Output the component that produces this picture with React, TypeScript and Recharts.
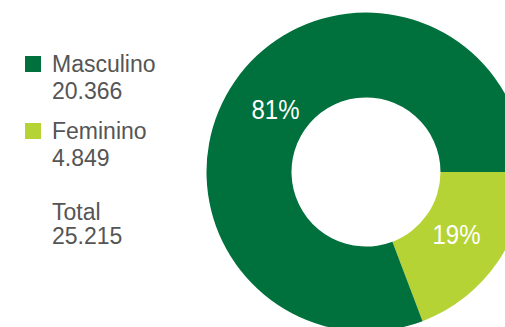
import React from "react";
import { PieChart, Pie, Cell } from "recharts";

const categories = ["Feminino", "Masculino"];
const values = [4849, 20366];
const valueLabels = ["4.849", "20.366"];
const percentLabels = ["19%", "81%"];
const colors = ["#B5D334", "#00703C"];
const totalLabel = "Total";
const totalValue = "25.215";

const data = categories.map((name, i) => ({ name, value: values[i], pct: percentLabels[i] }));
const legendOrder = [1, 0];

const RAD = Math.PI / 180;
const renderLabel = (props: any) => {
  const { cx, cy, midAngle, index } = props;
  const r = 110;
  const x = cx + r * Math.cos(-midAngle * RAD);
  const y = cy + r * Math.sin(-midAngle * RAD);
  return (
    <text
      x={x}
      y={y}
      fill="#ffffff"
      textAnchor="middle"
      dominantBaseline="central"
      textLength={48}
      lengthAdjust="spacingAndGlyphs"
      style={{ fontFamily: "'Liberation Sans', Arial, sans-serif", fontSize: 28 }}
    >
      {data[index].pct}
    </text>
  );
};

const textStyle: React.CSSProperties = {
  position: "absolute",
  fontFamily: "'Liberation Sans', Arial, sans-serif",
  fontSize: 23,
  color: "#555555",
  lineHeight: "26px",
  whiteSpace: "nowrap",
};

export default function App() {
  return (
    <div style={{ position: "absolute", left: 0, top: 0, width: 505, height: 327, overflow: "hidden", background: "#fff" }}>
      <div style={{ position: "absolute", left: 0, top: 0 }}>
        <PieChart width={505} height={327} margin={{ top: 0, right: 0, bottom: 0, left: 0 }}>
          <Pie
            data={data}
            dataKey="value"
            nameKey="name"
            cx={366}
            cy={172}
            innerRadius={74.5}
            outerRadius={159.5}
            startAngle={0}
            endAngle={-360}
            stroke="none"
            label={renderLabel}
            labelLine={false}
            isAnimationActive={false}
          >
            {data.map((d, i) => (
              <Cell key={d.name} fill={colors[i]} />
            ))}
          </Pie>
        </PieChart>
      </div>
      {legendOrder.map((idx, k) => {
        const top = 51 + k * 67;
        return (
          <div key={categories[idx]}>
            <div style={{ position: "absolute", left: 25, top: top + 5, width: 16, height: 16, background: colors[idx] }} />
            <div style={{ ...textStyle, left: 52, top: top }}>{categories[idx]}</div>
            <div style={{ ...textStyle, left: 52, top: top + 27 }}>{valueLabels[idx]}</div>
          </div>
        );
      })}
      <div style={{ ...textStyle, left: 52, top: 199 }}>{totalLabel}</div>
      <div style={{ ...textStyle, left: 52, top: 223 }}>{totalValue}</div>
    </div>
  );
}
